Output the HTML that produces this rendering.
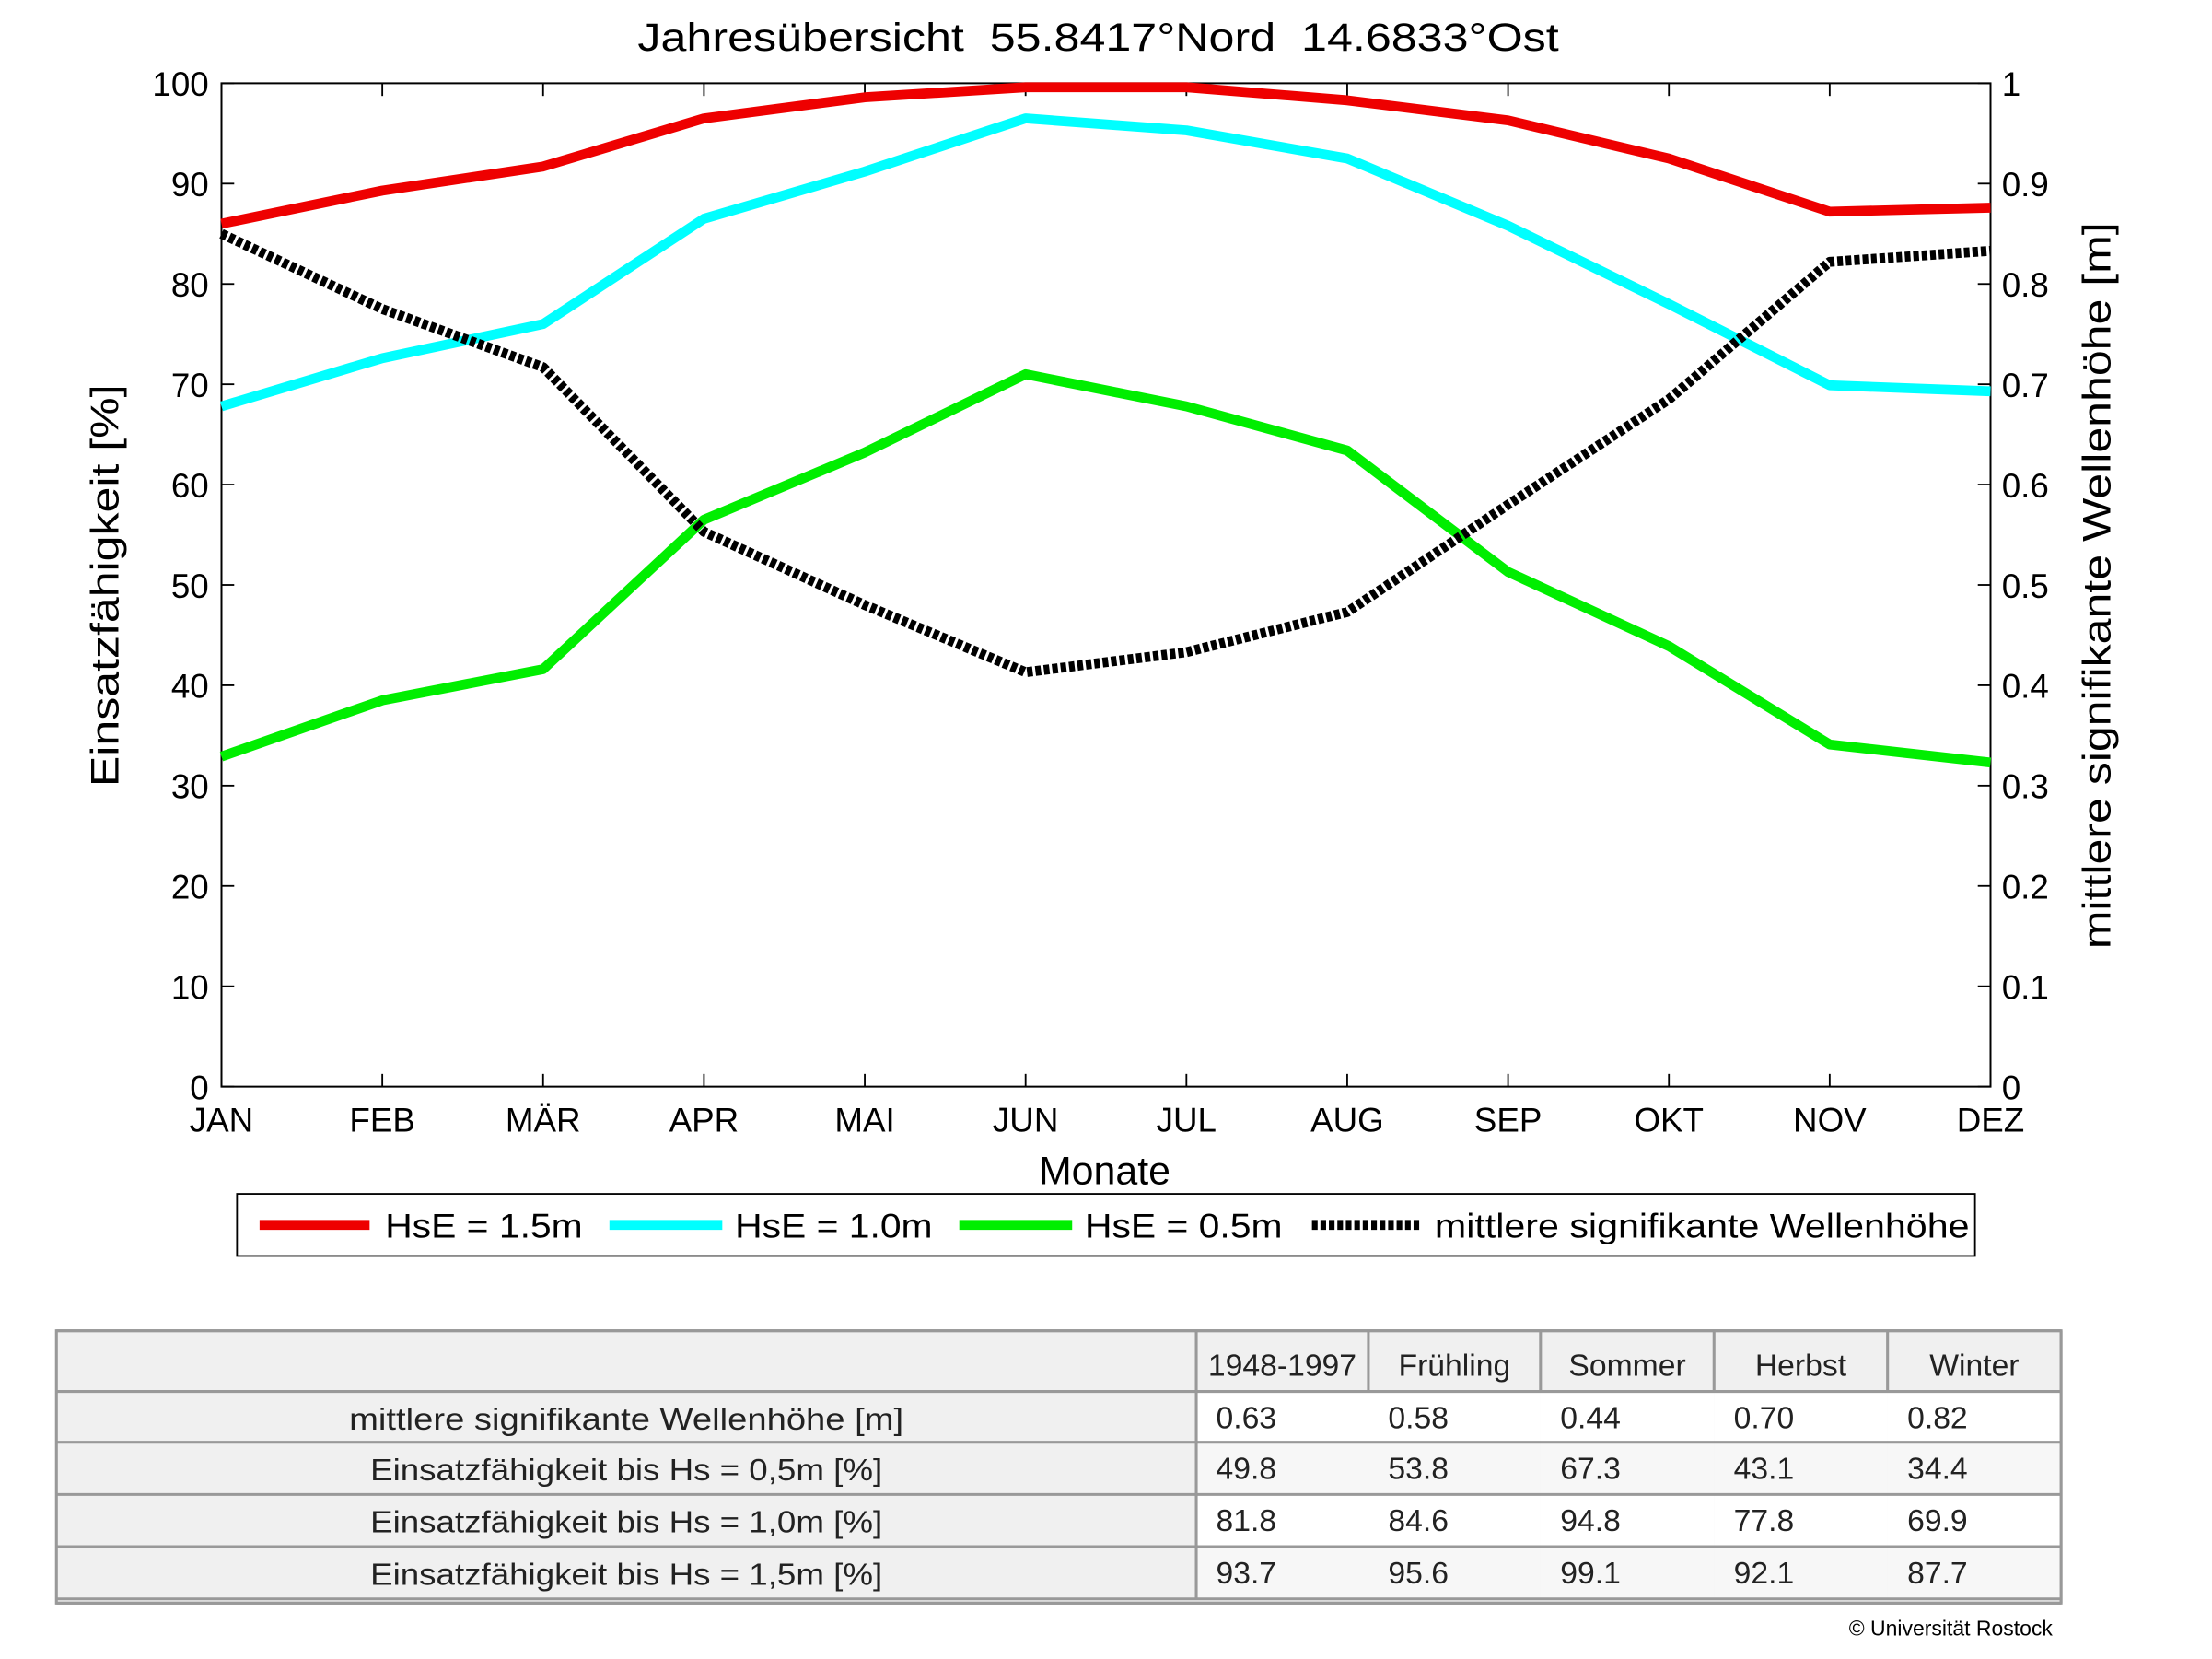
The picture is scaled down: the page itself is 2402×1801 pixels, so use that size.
<!DOCTYPE html>
<html><head><meta charset="utf-8">
<style>
html,body{margin:0;padding:0;background:#fff;}
svg{display:block;font-family:"Liberation Sans",sans-serif;}
.t{font-family:"Liberation Sans",sans-serif;font-size:22px;fill:#222;}
</style></head>
<body>
<svg id="chart" width="2402" height="1801" viewBox="0 0 1568 1175.6" preserveAspectRatio="none" xmlns="http://www.w3.org/2000/svg">
<rect x="0" y="0" width="1568" height="1176" fill="#fff"/>
<text x="452" y="36" font-size="28" textLength="653" lengthAdjust="spacingAndGlyphs" style="white-space:pre" xml:space="preserve">Jahresübersicht  55.8417°Nord  14.6833°Ost</text>
<g id="axes"></g>
<g id="series"></g>
<text x="783" y="839" font-size="28" text-anchor="middle">Monate</text>
<text transform="translate(84,415) rotate(-90)" font-size="28" text-anchor="middle" textLength="285" lengthAdjust="spacingAndGlyphs">Einsatzfähigkeit [%]</text>
<text transform="translate(1496,415) rotate(-90)" font-size="28" text-anchor="middle" textLength="515" lengthAdjust="spacingAndGlyphs">mittlere signifikante Wellenhöhe [m]</text>
<g>
<rect x="168" y="846" width="1232" height="44" fill="#fff" stroke="#000" stroke-width="1.2"/>
<line x1="184" y1="868" x2="262" y2="868" stroke="#ee0000" stroke-width="7"/>
<text x="273" y="877" font-size="24" textLength="140" lengthAdjust="spacingAndGlyphs">HsE = 1.5m</text>
<line x1="432" y1="868" x2="512" y2="868" stroke="#00ffff" stroke-width="7"/>
<text x="521" y="877" font-size="24" textLength="140" lengthAdjust="spacingAndGlyphs">HsE = 1.0m</text>
<line x1="680" y1="868" x2="760" y2="868" stroke="#00ee00" stroke-width="7"/>
<text x="769" y="877" font-size="24" textLength="140" lengthAdjust="spacingAndGlyphs">HsE = 0.5m</text>
<line x1="930" y1="868" x2="1008" y2="868" stroke="#000" stroke-width="7" stroke-dasharray="4 2"/>
<text x="1017" y="877" font-size="24" textLength="379" lengthAdjust="spacingAndGlyphs">mittlere signifikante Wellenhöhe</text>
</g>
<g id="table"></g>
<text x="1455" y="1159" font-size="15" text-anchor="end">© Universität Rostock</text>
</svg>
<script>
const months = ["JAN","FEB","MÄR","APR","MAI","JUN","JUL","AUG","SEP","OKT","NOV","DEZ"];
const hs15 = [86, 89.3, 91.7, 96.5, 98.6, 99.6, 99.6, 98.3, 96.3, 92.5, 87.2, 87.6];
const hs10 = [67.8, 72.6, 76, 86.5, 91.2, 96.5, 95.3, 92.5, 85.8, 78, 69.9, 69.3];
const hs05 = [32.9, 38.5, 41.6, 56.5, 63.2, 71, 67.8, 63.4, 51.3, 43.9, 34.1, 32.3];
const waveHeight = [0.85, 0.775, 0.717, 0.553, 0.48, 0.413, 0.433, 0.473, 0.58, 0.685, 0.822, 0.833];
const leftTicks = [0,10,20,30,40,50,60,70,80,90,100];
const rightTicks = ["0","0.1","0.2","0.3","0.4","0.5","0.6","0.7","0.8","0.9","1"];
const tableHeader = ["1948-1997","Frühling","Sommer","Herbst","Winter"];
const rowLabels = ["mittlere signifikante Wellenhöhe [m]","Einsatzfähigkeit bis Hs = 0,5m [%]","Einsatzfähigkeit bis Hs = 1,0m [%]","Einsatzfähigkeit bis Hs = 1,5m [%]"];
const tableValues = [["0.63","0.58","0.44","0.70","0.82"],["49.8","53.8","67.3","43.1","34.4"],["81.8","84.6","94.8","77.8","69.9"],["93.7","95.6","99.1","92.1","87.7"]];

const NS="http://www.w3.org/2000/svg";
const L=157,R=1411,T=59,B=770;
const x=i=>L+(R-L)*i/(months.length-1);
const yL=v=>B-(B-T)*v/100;
const yR=v=>B-(B-T)*v/1;
function mk(tag,attrs,parent,text){const e=document.createElementNS(NS,tag);for(const k in attrs)e.setAttribute(k,attrs[k]);if(text!==undefined)e.textContent=text;parent.appendChild(e);return e;}
const axes=document.getElementById('axes');
const frame=mk('rect',{x:L,y:T,width:R-L,height:B-T,fill:'none',stroke:'#000','stroke-width':1.3},axes);


leftTicks.forEach((v,i)=>{
  const yy=yL(v);
  mk('line',{x1:L,y1:yy,x2:L+9,y2:yy,stroke:'#000','stroke-width':1.2},axes);
  mk('line',{x1:R,y1:yy,x2:R-9,y2:yy,stroke:'#000','stroke-width':1.2},axes);
  const t=mk('text',{x:148,y:yy+9,'font-size':24,'text-anchor':'end'},axes,String(v));
  
  
  const t2=mk('text',{x:1419,y:yy+9,'font-size':24},axes,rightTicks[i]);
  
  
});
months.forEach((m,i)=>{
  const xx=x(i);
  mk('line',{x1:xx,y1:B,x2:xx,y2:B-9,stroke:'#000','stroke-width':1.2},axes);
  mk('line',{x1:xx,y1:T,x2:xx,y2:T+9,stroke:'#000','stroke-width':1.2},axes);
  const t=mk('text',{x:xx,y:802,'font-size':24,'text-anchor':'middle'},axes,m);
  
  
});
const series=document.getElementById('series');
function line(vals,yf,color,name,dash){
  const p=mk('polyline',{points:vals.map((v,i)=>x(i)+','+yf(v)).join(' '),fill:'none',stroke:color,'stroke-width':7,'stroke-linejoin':'round'},series);
  if(dash)p.setAttribute('stroke-dasharray',dash);
  
  
}
line(hs15,yL,'#ee0000','line-hse-1-5m');
line(hs10,yL,'#00ffff','line-hse-1-0m');
line(hs05,yL,'#00ee00','line-hse-0-5m');
line(waveHeight,yR,'#000','line-wave-height','4 2');

// table
const tb=document.getElementById('table');
const cols=[40,848,970,1092,1215,1338,1461];
const rows=[943,986,1022,1059,1096,1133];
mk('rect',{x:40,y:943,width:1421,height:193,fill:'#f0f0f0',stroke:'#999','stroke-width':2},tb);
for(let r=0;r<4;r++){for(let c=1;c<6;c++){mk('rect',{x:cols[c],y:rows[r+1],width:cols[c+1]-cols[c],height:rows[r+2]-rows[r+1],fill:(r%2==0)?'#fff':'#f7f7f7'},tb);}}
rows.forEach(yy=>mk('line',{x1:40,y1:yy,x2:1461,y2:yy,stroke:'#999','stroke-width':2},tb));
mk('line',{x1:40,y1:1136,x2:1461,y2:1136,stroke:'#999','stroke-width':2},tb);
mk('line',{x1:848,y1:943,x2:848,y2:1133,stroke:'#999','stroke-width':2},tb);
for(let c=2;c<6;c++)mk('line',{x1:cols[c],y1:943,x2:cols[c],y2:986,stroke:'#999','stroke-width':2},tb);
mk('line',{x1:1461,y1:943,x2:1461,y2:1136,stroke:'#999','stroke-width':2},tb);
tableHeader.forEach((h,i)=>{
  const t=mk('text',{x:(cols[i+1]+cols[i+2])/2,y:975,'text-anchor':'middle',class:'t'},tb,h);
  
  
});
rowLabels.forEach((lab,r)=>{
  const yy=rows[r+1]+27;
  const w = r===0 ? 393 : 363;
  const t=mk('text',{x:444-w/2,y:yy,class:'t',textLength:w,lengthAdjust:'spacingAndGlyphs'},tb,lab);
  
  
  tableValues[r].forEach((v,c)=>{
    const tv=mk('text',{x:cols[c+1]+14,y:yy-1,class:'t'},tb,v);
    
    
  });
});
</script>
</body></html>
